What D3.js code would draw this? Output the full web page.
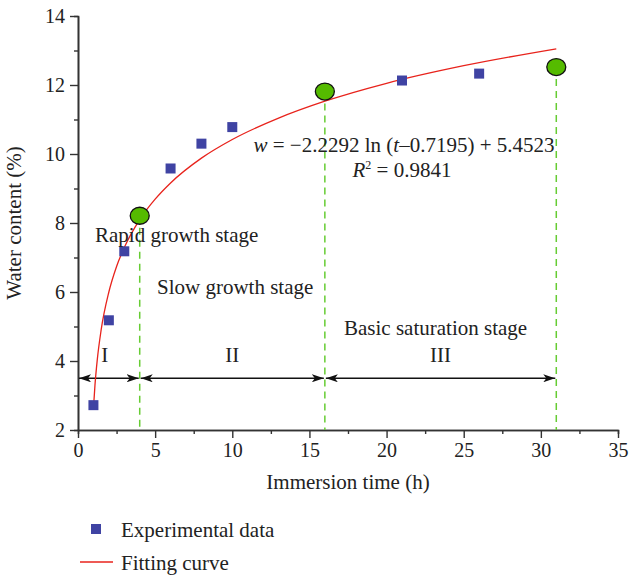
<!DOCTYPE html>
<html>
<head>
<meta charset="utf-8">
<script src="https://cdn.jsdelivr.net/npm/d3@7"></script>
<style>
body{margin:0;background:#fff}
svg text{font-family:"Liberation Serif","Times New Roman",serif;fill:#222}
</style>
</head>
<body>
<div id="chart"></div>
<script>
// measured data
const expTime=[1,2,3,6,8,10,21,26]
const expWater=[2.72,5.18,7.18,9.58,10.3,10.78,12.13,12.33]

// stage boundaries (green circles)
const stageTime=[4,16,31]
const stageWater=[8.21,11.81,12.52]

// fitting curve
const fitTime=[1,1.1,1.25,1.5,2,2.5,3,4,5,6,8,10,13,16,20,25,31]
const fitWater=[2.62,3.3,4.04,4.9,6.0,6.74,7.29,8.1,8.69,9.16,9.88,10.42,11.04,11.53,12.05,12.56,13.05]

const xTicks=[0,5,10,15,20,25,30,35]
const yTicks=[2,4,6,8,10,12,14]
const stageLabels=['I','II','III']
const stageStart=[0,4,16]
const stageEnd=[4,16,31]

const margin=({top:16,right:11,bottom:147,left:78})
const width=629-margin.left-margin.right,
	height=577-margin.top-margin.bottom
const fs='21px'

const root=d3.select('#chart').append('svg')
	.attr('width',629)
	.attr('height',577)
const svg=root.append('g')
	.attr('transform','translate('+margin.left+','+margin.top+')')

const x=d3.scaleLinear().domain([0,35]).range([0,width])
const y=d3.scaleLinear().domain([2,14]).range([height,0])

const defs=root.append('defs')
defs.append('marker')
	.attr('id','arr')
	.attr('viewBox','0 0 12 8')
	.attr('refX',12).attr('refY',4)
	.attr('markerWidth',12).attr('markerHeight',8)
	.attr('markerUnits','userSpaceOnUse')
	.attr('orient','auto-start-reverse')
	.append('path')
	.attr('d','M0,0 L12,4 L0,8 L3,4 Z')
	.attr('fill','#111')

// axes with minor ticks
const xMinor=d3.range(0,35.1,2.5).filter(d=>d%5!==0)
const yMinor=d3.range(3,14,2)

svg.append('g')
	.attr('transform',`translate(0,${height})`)
	.call(d3.axisBottom(x).tickValues(xMinor).tickSize(4).tickFormat(''))
svg.append('g')
	.attr('transform',`translate(0,${height})`)
	.call(d3.axisBottom(x).tickValues(xTicks).tickSize(8).tickSizeOuter(0).tickPadding(5))
svg.append('g')
	.call(d3.axisLeft(y).tickValues(yMinor).tickSize(4).tickFormat(''))
svg.append('g')
	.call(d3.axisLeft(y).tickValues(yTicks).tickSize(8).tickSizeOuter(0).tickPadding(5))

svg.selectAll('.domain').attr('stroke','#333').attr('stroke-width',1.6)
svg.selectAll('.tick line').attr('stroke','#333').attr('stroke-width',1.4)
svg.selectAll('.tick text').style('font-size','20px').attr('fill','#222')

// axis titles
svg.append('text')
	.attr('x',348-margin.left).attr('y',height+59)
	.attr('text-anchor','middle')
	.style('font-size',fs)
	.text('Immersion time (h)')
svg.append('text')
	.attr('transform',`translate(-57,${y(8)}) rotate(-90)`)
	.attr('text-anchor','middle')
	.style('font-size',fs)
	.text('Water content (%)')

// dashed stage lines
svg.selectAll('.stage-line')
	.data(stageTime)
	.join('line')
	.attr('x1',d=>x(d)).attr('x2',d=>x(d))
	.attr('y1',(d,i)=>y(stageWater[i]))
	.attr('y2',height)
	.attr('stroke','#66cc33')
	.attr('stroke-width',1.5)
	.attr('stroke-dasharray','7,5')

// stage arrows
const arrowY=y(3.5)
svg.selectAll('.stage-arrow')
	.data(stageStart)
	.join('line')
	.attr('x1',d=>x(d)+1)
	.attr('x2',(d,i)=>x(stageEnd[i])-1)
	.attr('y1',arrowY).attr('y2',arrowY)
	.attr('stroke','#111')
	.attr('stroke-width',1.3)
	.attr('marker-start','url(#arr)')
	.attr('marker-end','url(#arr)')

svg.selectAll('.stage-label')
	.data(stageLabels)
	.join('text')
	.attr('x',(d,i)=>x((stageStart[i]+stageEnd[i])/2)+(i==0?-4:0))
	.attr('y',arrowY-16)
	.attr('text-anchor','middle')
	.style('font-size',fs)
	.text(d=>d)

// fitting curve
const line=d3.line()
	.x((d,i)=>x(fitTime[i]))
	.y(d=>y(d))
	.curve(d3.curveMonotoneX)
svg.append('path')
	.datum(fitWater)
	.attr('fill','none')
	.attr('stroke','#e8231c')
	.attr('stroke-width',1.3)
	.attr('d',line)

// experimental squares
svg.selectAll('.exp')
	.data(expWater)
	.join('rect')
	.attr('x',(d,i)=>x(expTime[i])-5)
	.attr('y',d=>y(d)-5)
	.attr('width',10).attr('height',10)
	.attr('fill','#3f43a3')

// green stage points
svg.selectAll('.stage-pt')
	.data(stageWater)
	.join('ellipse')
	.attr('cx',(d,i)=>x(stageTime[i]))
	.attr('cy',d=>y(d))
	.attr('rx',9.5).attr('ry',8.5)
	.attr('fill','#55bb00')
	.attr('stroke','#111')
	.attr('stroke-width',1.3)

// annotations
const note=(tx,ty,txt)=>svg.append('text')
	.attr('x',tx).attr('y',ty)
	.style('font-size',fs)
	.text(txt)
note(95-margin.left,242-margin.top,'Rapid growth stage')
note(157-margin.left,294-margin.top,'Slow growth stage')
note(344-margin.left,335-margin.top,'Basic saturation stage')

const eq=svg.append('text')
	.attr('x',404-margin.left).attr('y',152-margin.top)
	.attr('text-anchor','middle')
	.style('font-size',fs)
eq.append('tspan').style('font-style','italic').text('w')
eq.append('tspan').text(' = \u22122.2292 ln (')
eq.append('tspan').style('font-style','italic').text('t')
eq.append('tspan').text('\u20130.7195) + 5.4523')

const r2=svg.append('text')
	.attr('x',402-margin.left).attr('y',177-margin.top)
	.attr('text-anchor','middle')
	.style('font-size',fs)
r2.append('tspan').style('font-style','italic').text('R')
r2.append('tspan').attr('dy',-8).style('font-size','12px').text('2')
r2.append('tspan').attr('dy',8).text(' = 0.9841')

// legend
const lg=root.append('g')
lg.append('rect')
	.attr('x',91).attr('y',524)
	.attr('width',10).attr('height',10)
	.attr('fill','#3f43a3')
lg.append('text')
	.attr('x',121).attr('y',537)
	.style('font-size',fs)
	.text('Experimental data')
lg.append('line')
	.attr('x1',80).attr('x2',113)
	.attr('y1',562).attr('y2',562)
	.attr('stroke','#e8231c')
	.attr('stroke-width',1.3)
lg.append('text')
	.attr('x',121).attr('y',570)
	.style('font-size',fs)
	.text('Fitting curve')
</script>
</body>
</html>
